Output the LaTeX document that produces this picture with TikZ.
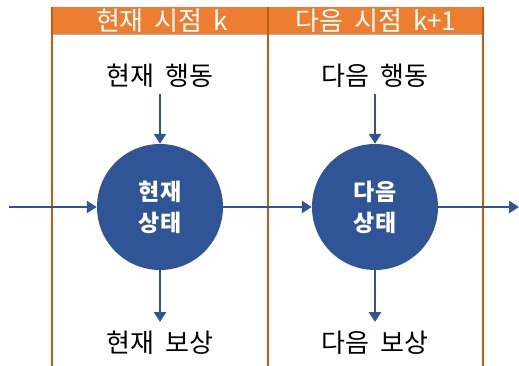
\documentclass[tikz,border=0pt]{standalone}
\usepackage{fontspec}
\setmainfont{Noto Sans CJK KR}
\usetikzlibrary{arrows.meta}
\definecolor{myblue}{HTML}{2F5597}
\definecolor{myorange}{HTML}{ED7D31}
\definecolor{mydarkorange}{HTML}{C55A11}
\newcommand{\wsp}{\hspace{0.42em}}
\tikzset{
  statenode/.style={circle, fill=myblue, minimum size=126pt, inner sep=0pt, text=white, font=\fontsize{23}{31}\selectfont\bfseries, align=center},
  lbl/.style={font=\fontsize{26}{28}\selectfont, inner sep=0pt},
  hdr/.style={font=\fontsize{26}{28}\selectfont, text=white, inner sep=0pt},
  flow/.style={draw=myblue, line width=2.8pt, -{Triangle[length=10pt,width=12pt]}},
  divider/.style={draw=mydarkorange, line width=2pt}
}
\begin{document}
\begin{tikzpicture}[x=1pt,y=-1pt]
\useasboundingbox (0,0) rectangle (519,366);
% header band
\fill[myorange] (52,7) rectangle (483,34);
\draw[gray!60, line width=0.8pt] (53,34) -- (482,34);
\node[hdr] (h1) at (162,20.5) {현재\wsp 시점\wsp k};
\node[hdr] (h2) at (376,20.5) {다음\wsp 시점\wsp k+1};
% dividers
\draw[divider] (52,7) -- (52,366);
\draw[divider] (268,7) -- (268,366);
\draw[divider] (483,7) -- (483,366);
% states
\node[statenode] (s1) at (160,207) {현재\\상태};
\node[statenode] (s2) at (375,207) {다음\\상태};
% labels
\node[lbl] (a1) at (160,76) {현재\wsp 행동};
\node[lbl] (a2) at (375,76) {다음\wsp 행동};
\node[lbl] (r1) at (160,343) {현재\wsp 보상};
\node[lbl] (r2) at (375,343) {다음\wsp 보상};
\coordinate (in) at (9,207);
\coordinate (out) at (519,207);
% arrows
\draw[flow] (in) -- (s1.west);
\draw[flow] (s1.east) -- (s2.west);
\draw[flow] (s2.east) -- (out);
\draw[flow, shorten <=6pt] (a1.south) -- (s1.north);
\draw[flow, shorten <=6pt] (a2.south) -- (s2.north);
\draw[flow, shorten >=9pt] (s1.south) -- (r1.north);
\draw[flow, shorten >=9pt] (s2.south) -- (r2.north);
\end{tikzpicture}
\end{document}
